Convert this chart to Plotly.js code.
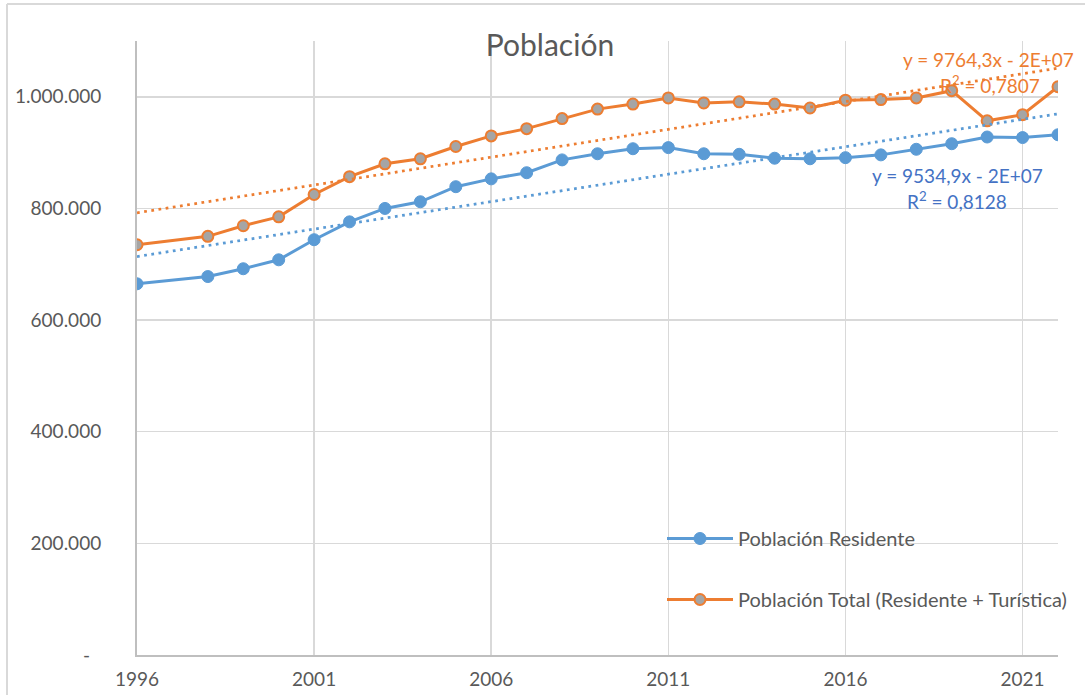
<!DOCTYPE html>
<html>
<head>
<meta charset="utf-8">
<script src="https://cdn.plot.ly/plotly-3.0.1.min.js"></script>
<style>
  html, body { margin: 0; padding: 0; background: #ffffff; }
  #chart { width: 1085px; height: 695px; }
</style>
</head>
<body>
<div id="chart"></div>
<script>
// ---- Data ----
const years = [1996, 1998, 1999, 2000, 2001, 2002, 2003, 2004, 2005, 2006, 2007, 2008, 2009,
               2010, 2011, 2012, 2013, 2014, 2015, 2016, 2017, 2018, 2019, 2020, 2021, 2022];

const poblacionResidente = [665000, 678000, 692000, 708000, 744000, 776000, 800000, 812000, 839000,
                            853000, 864000, 887000, 898000, 907000, 909000, 898000, 897000, 890000,
                            889000, 891000, 896000, 906000, 916000, 928000, 927000, 932000];

const poblacionTotal = [735000, 750000, 769000, 785000, 825000, 857000, 880000, 889000, 911000,
                        930000, 943000, 961000, 978000, 987000, 998000, 989000, 991000, 987000,
                        980000, 994000, 995000, 998000, 1011000, 957000, 968000, 1018000];

const seriesNames = ["Población Residente", "Población Total (Residente + Turística)"];
const chartTitle = "Población";
const trendLabelsResidente = ["y = 9534,9x - 2E+07", "R<sup>2</sup> = 0,8128"];
const trendLabelsTotal = ["y = 9764,3x - 2E+07", "R<sup>2</sup> = 0,7807"];

const yTickVals = [0, 200000, 400000, 600000, 800000, 1000000];
const yTickText = ["-\u2007", "200.000", "400.000", "600.000", "800.000", "1.000.000"];
const xTickVals = [1996, 2001, 2006, 2011, 2016, 2021];

// Linear least-squares trendline (as the spreadsheet's linear trendline)
function linearFit(xs, ys) {
  const n = xs.length;
  let sx = 0, sy = 0, sxx = 0, sxy = 0;
  for (let i = 0; i < n; i++) { sx += xs[i]; sy += ys[i]; sxx += xs[i] * xs[i]; sxy += xs[i] * ys[i]; }
  const m = (n * sxy - sx * sy) / (n * sxx - sx * sx);
  const b = (sy - m * sx) / n;
  return { m, b };
}
const xEnds = [years[0], years[years.length - 1]];
const fitRes = linearFit(years, poblacionResidente);
const fitTot = linearFit(years, poblacionTotal);

const BLUE = "#5B9BD5", ORANGE = "#ED7D31", GRAY = "#A5A5A5", TXT = "#595959";
const FONT = "Lato, 'Open Sans', sans-serif";

const traces = [
  {
    x: years, y: poblacionResidente, type: "scatter", mode: "lines+markers",
    name: seriesNames[0], legendgroup: "g1",
    line: { color: BLUE, width: 3 },
    marker: { color: BLUE, size: 12, line: { color: BLUE, width: 1 } }
  },
  {
    x: years, y: poblacionTotal, type: "scatter", mode: "lines+markers",
    name: seriesNames[1], legendgroup: "g2",
    line: { color: ORANGE, width: 3 },
    marker: { color: GRAY, size: 11, line: { color: ORANGE, width: 2 } }
  },
  {
    x: xEnds, y: xEnds.map(v => fitRes.m * v + fitRes.b), type: "scatter", mode: "lines",
    showlegend: false, hoverinfo: "skip", legendgroup: "g1",
    line: { color: BLUE, width: 2.75, dash: "2.75px,4.5px" }
  },
  {
    x: xEnds, y: xEnds.map(v => fitTot.m * v + fitTot.b), type: "scatter", mode: "lines",
    showlegend: false, hoverinfo: "skip", legendgroup: "g2",
    line: { color: ORANGE, width: 2.75, dash: "2.75px,4.5px" }
  }
];

const L = 137, R = 27, T = 41, B = 40, W = 1085, H = 695;
const pw = W - L - R, ph = H - T - B;
const px = v => (v - L) / pw;          // pixel -> paper x
const py = v => (H - B - v) / ph;      // pixel -> paper y

function ann(text, cx, cy, color) {
  return { text, x: px(cx), y: py(cy), xref: "paper", yref: "paper",
           xanchor: "center", yanchor: "middle", showarrow: false,
           font: { family: FONT, size: 19, color } };
}

const layout = {
  width: W, height: H,
  margin: { l: L, r: R, t: T, b: B, pad: 0 },
  paper_bgcolor: "#ffffff", plot_bgcolor: "#ffffff",
  font: { family: FONT, color: TXT, size: 19 },
  title: {
    text: chartTitle, font: { family: FONT, size: 30, color: TXT },
    xref: "paper", x: px(550), xanchor: "center",
    yref: "container", y: 1 - 45 / H, yanchor: "middle"
  },
  xaxis: {
    range: [1996, 2022], tickvals: xTickVals, ticktext: xTickVals.map(String),
    showgrid: true, gridcolor: "#D9D9D9", gridwidth: 1.5,
    showline: true, linecolor: "#BFBFBF", linewidth: 2,
    ticks: "outside", ticklen: 6, tickcolor: "rgba(0,0,0,0)",
    tickfont: { family: FONT, size: 19, color: TXT }, zeroline: false, fixedrange: true
  },
  yaxis: {
    range: [0, 1100000], tickvals: yTickVals, ticktext: yTickText,
    showgrid: true, gridcolor: "#D9D9D9", gridwidth: 1.5,
    showline: true, linecolor: "#BFBFBF", linewidth: 2,
    ticks: "outside", ticklen: 30, tickcolor: "rgba(0,0,0,0)",
    tickfont: { family: FONT, size: 19, color: TXT }, zeroline: false, fixedrange: true
  },
  legend: {
    x: px(662), xanchor: "left", y: py(519), yanchor: "top",
    bgcolor: "rgba(0,0,0,0)", borderwidth: 0,
    font: { family: FONT, size: 20, color: TXT },
    tracegroupgap: 32, itemwidth: 66, traceorder: "grouped"
  },
  annotations: [
    ann(trendLabelsTotal[0], 988, 59, ORANGE),
    ann(trendLabelsTotal[1], 990, 84, ORANGE),
    ann(trendLabelsResidente[0], 957, 175, "#4472C4"),
    ann(trendLabelsResidente[1], 957, 200, "#4472C4")
  ],
  shapes: [
    { type: "line", xref: "paper", yref: "paper", x0: px(7), x1: px(1085), y0: py(4), y1: py(4),
      line: { color: "#D9D9D9", width: 2 } },
    { type: "line", xref: "paper", yref: "paper", x0: px(7), x1: px(7), y0: py(4), y1: py(695),
      line: { color: "#D9D9D9", width: 2 } }
  ],
  showlegend: true, hovermode: false
};

Plotly.newPlot("chart", traces, layout, { displayModeBar: false, staticPlot: true });
</script>
</body>
</html>
